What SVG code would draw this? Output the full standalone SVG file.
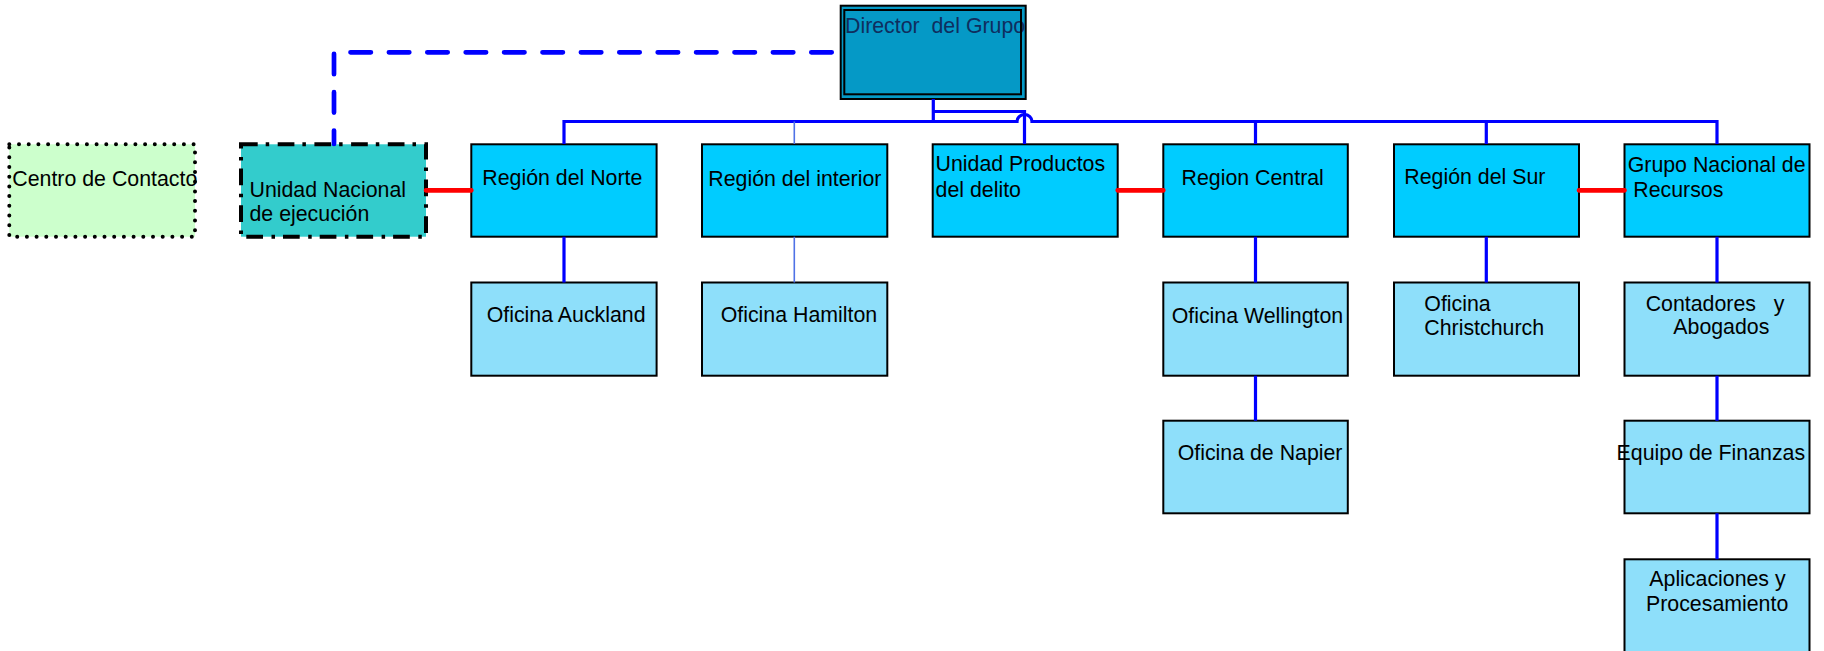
<svg xmlns="http://www.w3.org/2000/svg" width="1824" height="651" viewBox="0 0 1824 651">
<style>
text{font-family:"Liberation Sans",Arial,sans-serif;font-size:21.33px;fill:#000;white-space:pre}
.r1{fill:#00CCFF;stroke:#000;stroke-width:2}
.r2{fill:#8EDFFA;stroke:#000;stroke-width:2}
.bl{fill:none;stroke:#0000FF;stroke-width:3.2}
.thin{fill:none;stroke:#4F72E6;stroke-width:1.6}
.red{fill:none;stroke:#FF0000;stroke-width:4.7;stroke-linecap:round}
.dash{fill:none;stroke:#0000FF;stroke-width:4.7;stroke-linecap:round;stroke-dasharray:20.4 18;stroke-dashoffset:7}
</style>
<rect width="1824" height="651" fill="#FFFFFF"/>
<g id="nodes">
<g id="centro">
<rect x="9.3" y="144.3" width="185.7" height="92.4" fill="#CCFFCC" stroke="#000" stroke-width="4" stroke-linecap="round" stroke-dasharray="0 9.7"/>
<text x="12.3" y="185.7">Centro de Contacto</text>
</g>
<g id="unidad-nacional">
<rect x="241" y="144.3" width="185" height="92.4" fill="#33CCCC" stroke="#000" stroke-width="4" stroke-dasharray="16.7 8 3.5 8.5"/>
<text x="249.5" y="196.7">Unidad Nacional</text>
<text x="249.5" y="221">de ejecución</text>
</g>
<g id="director">
<rect x="840.7" y="5.7" width="185" height="93.3" fill="#0599C6"/>
<text x="845" y="32.7" style="fill:#0F2E5E">Director  del Grupo</text>
<rect x="840.7" y="5.7" width="185" height="93.3" fill="none" stroke="#000" stroke-width="2"/>
<rect x="844.3" y="10" width="176.7" height="84.3" fill="none" stroke="#000" stroke-width="2"/>
</g>
<g id="norte">
<rect class="r1" x="471.3" y="144.3" width="185.3" height="92.4"/>
<text x="482.3" y="185">Región del Norte</text>
</g>
<g id="interior">
<rect class="r1" x="702" y="144.3" width="185.3" height="92.4"/>
<text x="708.3" y="186">Región del interior</text>
</g>
<g id="productos">
<rect class="r1" x="932.7" y="144.3" width="185" height="92.4"/>
<text x="935.6" y="171">Unidad Productos</text>
<text x="935.6" y="196.7">del delito</text>
</g>
<g id="central">
<rect class="r1" x="1163.3" y="144.3" width="184.5" height="92.4"/>
<text x="1181.6" y="185">Region Central</text>
</g>
<g id="sur">
<rect class="r1" x="1394" y="144.3" width="185" height="92.4"/>
<text x="1404.3" y="184.3">Región del Sur</text>
</g>
<g id="recursos">
<rect class="r1" x="1624.5" y="144.3" width="185" height="92.4"/>
<text x="1627.7" y="171.7">Grupo Nacional de</text>
<text x="1633.3" y="197.3">Recursos</text>
</g>
<g id="auckland">
<rect class="r2" x="471.3" y="282.5" width="185.3" height="93.2"/>
<text x="486.7" y="322.3">Oficina Auckland</text>
</g>
<g id="hamilton">
<rect class="r2" x="702" y="282.5" width="185.3" height="93.2"/>
<text x="720.7" y="322">Oficina Hamilton</text>
</g>
<g id="wellington">
<rect class="r2" x="1163.3" y="282.5" width="184.5" height="93.2"/>
<text x="1171.7" y="322.7">Oficina Wellington</text>
</g>
<g id="christchurch">
<rect class="r2" x="1394" y="282.5" width="185" height="93.2"/>
<text x="1424.3" y="310.7">Oficina</text>
<text x="1424.3" y="335.3">Christchurch</text>
</g>
<g id="contadores">
<rect class="r2" x="1624.5" y="282.5" width="185" height="93.2"/>
<text x="1645.7" y="310.7">Contadores   y</text>
<text x="1673.3" y="334.3">Abogados</text>
</g>
<g id="napier">
<rect class="r2" x="1163.3" y="420.7" width="184.5" height="92.6"/>
<text x="1177.7" y="460">Oficina de Napier</text>
</g>
<g id="finanzas">
<rect class="r2" x="1624.5" y="420.7" width="185" height="92.6"/>
<text x="1616.6" y="460">Equipo de Finanzas</text>
</g>
<g id="aplicaciones">
<rect class="r2" x="1624.5" y="559.3" width="185" height="93"/>
<text x="1649.3" y="586">Aplicaciones y</text>
<text x="1646" y="610.7">Procesamiento</text>
</g>
</g>
<g id="connectors">
<path class="dash" d="M334,144 V52.3 H841"/>
<path class="bl" d="M564,144 V121.5 H1017 A7.5 7 0 0 1 1032,121.5 H1717 V144"/>
<path class="bl" d="M933.3,99 V121.5 M933.3,111.5 H1024.5 V144"/>
<path class="thin" d="M794.3,121.5 V144 M794.3,236.7 V282.5"/>
<path class="bl" d="M1255.5,121.5 V144 M1486.3,121.5 V144"/>
<path class="bl" d="M564,236.7 V282.5 M1255.5,236.7 V282.5 M1486.3,236.7 V282.5 M1717,236.7 V282.5"/>
<path class="bl" d="M1255.5,375.7 V420.7 M1717,375.7 V420.7 M1717,513.3 V559.3"/>
<path class="red" d="M426,190.3 H471.3 M1117.7,190.3 H1163.3 M1579,190.3 H1624.5"/>
</g>
</svg>
